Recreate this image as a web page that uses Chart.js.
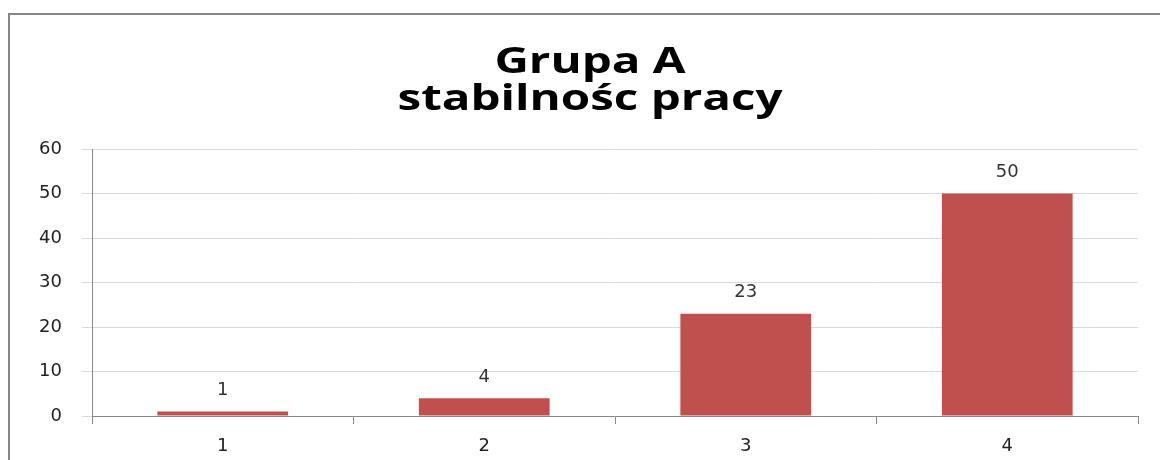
<!DOCTYPE html>
<html>
<head>
<meta charset="utf-8">
<script src="https://cdn.jsdelivr.net/npm/chart.js@4/dist/chart.umd.min.js"></script>
<style>
  html, body { margin: 0; padding: 0; background: #fff; }
  #wrap { position: relative; width: 1160px; height: 460px; }
  #frame { position: absolute; left: 8px; top: 13px; right: 0; bottom: 0;
           border-left: 2px solid #858585; border-top: 2px solid #858585; pointer-events: none; }
</style>
</head>
<body>
<div id="wrap">
  <canvas id="chart" width="1160" height="460"></canvas>
  <div id="frame"></div>
</div>
<script>
var categories = ['1', '2', '3', '4'];
var values = [1, 4, 23, 50];
var titleLines = ['Grupa A', 'stabilnośc pracy'];
var yMin = 0, yMax = 60, yStep = 10;

var tickFont = '"DejaVu Sans", Verdana, sans-serif';

// number above each bar
var valueLabels = {
    id: 'valueLabels',
    afterDatasetsDraw: function(chart) {
        var ctx = chart.ctx;
        var meta = chart.getDatasetMeta(0);
        ctx.save();
        ctx.font = '18px ' + tickFont;
        ctx.fillStyle = '#333333';
        ctx.textAlign = 'center';
        ctx.textBaseline = 'middle';
        meta.data.forEach(function(bar, i) {
            ctx.fillText(values[i], bar.x, bar.y - 21);
        });
        ctx.restore();
    }
};

// two line title, a bit stretched sideways like the original
var wideTitle = {
    id: 'wideTitle',
    afterDraw: function(chart) {
        var ctx = chart.ctx;
        var stretch = 1.32;
        var cx = 590;
        var baselines = [73, 110];
        ctx.save();
        ctx.font = 'bold 36px "Open Sans", sans-serif';
        ctx.fillStyle = '#000000';
        ctx.textAlign = 'center';
        ctx.textBaseline = 'alphabetic';
        ctx.scale(stretch, 1);
        titleLines.forEach(function(line, i) {
            ctx.fillText(line, cx / stretch, baselines[i]);
        });
        ctx.restore();
    }
};

var config = {
    type: 'bar',
    data: {
        labels: categories,
        datasets: [{
            data: values,
            backgroundColor: '#C0504D',
            borderWidth: 0,
            barPercentage: 0.5,
            categoryPercentage: 1
        }]
    },
    options: {
        responsive: false,
        animation: false,
        layout: { padding: { left: 0, right: 22, top: 149, bottom: 0 } },
        plugins: {
            legend: { display: false },
            tooltip: { enabled: false },
            title: { display: false }
        },
        scales: {
            x: {
                grid: { offset: true, drawOnChartArea: false, drawTicks: true, tickLength: 8, color: '#888888' },
                border: { color: '#888888' },
                ticks: { color: '#222222', padding: 12, font: { family: tickFont, size: 18 } },
                afterFit: function(scale) { scale.height = 44; }
            },
            y: {
                min: yMin,
                max: yMax,
                ticks: { stepSize: yStep, color: '#222222', padding: 20, font: { family: tickFont, size: 18 } },
                grid: { color: '#d9d9d9', tickLength: 10, tickColor: '#d9d9d9' },
                border: { color: '#888888' },
                afterFit: function(scale) { scale.width = 92; }
            }
        }
    },
    plugins: [valueLabels, wideTitle]
};

var ctx = document.getElementById('chart');
window.myChart = new Chart(ctx, config);
</script>
</body>
</html>
